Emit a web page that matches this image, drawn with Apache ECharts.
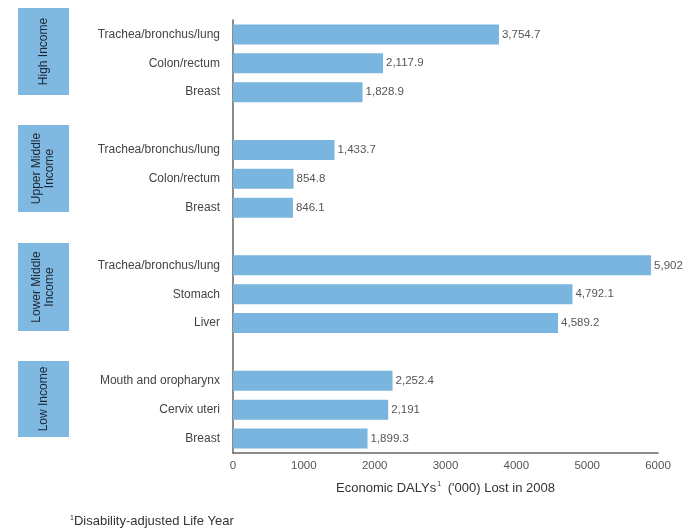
<!DOCTYPE html>
<html>
<head>
<meta charset="utf-8">
<script src="https://cdn.jsdelivr.net/npm/echarts@6/dist/echarts.min.js"></script>
<style>html,body{margin:0;padding:0;background:#fff;}#c{width:697px;height:531px;}</style>
</head>
<body>
<div id="c"></div>
<script>
// Data
var categories = [
  'Trachea/bronchus/lung', 'Colon/rectum', 'Breast', '',
  'Trachea/bronchus/lung ', 'Colon/rectum ', 'Breast ', ' ',
  'Trachea/bronchus/lung  ', 'Stomach', 'Liver', '  ',
  'Mouth and oropharynx', 'Cervix uteri', 'Breast  '
];
var values = [
  3754.7, 2117.9, 1828.9, null,
  1433.7, 854.8, 846.1, null,
  5902, 4792.1, 4589.2, null,
  2252.4, 2191, 1899.3
];
var groupNames = ['High Income', 'Upper Middle\nIncome', 'Lower Middle\nIncome', 'Low Income'];
var xTicks = [0, 1000, 2000, 3000, 4000, 5000, 6000];

// Layout of the group boxes (decoration)
var boxLayout = [
  {top: 8, height: 87},
  {top: 125, height: 87},
  {top: 243, height: 88},
  {top: 361, height: 76}
];

function fmt(v) {
  var parts = String(v).split('.');
  parts[0] = parts[0].replace(/\B(?=(\d{3})+(?!\d))/g, ',');
  return parts.join('.');
}

var font = '"Liberation Sans", Arial, sans-serif';
var chart = echarts.init(document.getElementById('c'));

var graphics = [];
groupNames.forEach(function (g, i) {
  var b = boxLayout[i];
  graphics.push({
    type: 'rect',
    shape: {x: 18, y: b.top, width: 51, height: b.height},
    style: {fill: '#7fb9e1'}
  });
  graphics.push({
    type: 'text',
    x: 43.5, y: b.top + b.height / 2,
    rotation: Math.PI / 2,
    style: {
      text: g, fill: '#1c2633', font: '12px ' + font,
      align: 'center', verticalAlign: 'middle', lineHeight: 13
    }
  });
});

chart.setOption({
  animation: false,
  backgroundColor: '#fff',
  title: {
    left: 65, top: 510,
    text: '{sup|1}Disability-adjusted Life Year',
    textStyle: {
      fontFamily: font, fontSize: 13, fontWeight: 'normal', color: '#333',
      rich: {sup: {fontSize: 7, verticalAlign: 'top', color: '#333', padding: [0, 0, 6, 0]}}
    }
  },
  grid: {left: 233, right: 39, top: 20, bottom: 78, containLabel: false},
  xAxis: {
    type: 'value', min: 0, max: 6000, interval: 1000,
    splitLine: {show: false},
    axisLine: {show: true, lineStyle: {color: '#666', width: 1.5}},
    axisTick: {show: false},
    axisLabel: {
      color: '#555', fontFamily: font, fontSize: 11.5, margin: 7,
      formatter: function (v) { return xTicks.indexOf(v) >= 0 ? String(v) : ''; }
    },
    name: "Economic DALYs{sup|1} ('000) Lost in 2008",
    nameLocation: 'middle', nameGap: 28,
    nameTextStyle: {
      color: '#333', fontFamily: font, fontSize: 13,
      rich: {sup: {fontSize: 7, verticalAlign: 'top', color: '#333', padding: [0, 3, 7, 1]}}
    }
  },
  yAxis: {
    type: 'category', data: categories, inverse: true,
    axisLine: {show: true, lineStyle: {color: '#666', width: 1.5}},
    axisTick: {show: false},
    axisLabel: {
      color: '#444', fontFamily: font, fontSize: 12, margin: 13, interval: 0,
      formatter: function (v) { return v.trim(); }
    },
    splitLine: {show: false}
  },
  series: [{
    type: 'bar', data: values, barWidth: 20,
    itemStyle: {color: '#79b5de'},
    label: {
      show: true, position: 'right', distance: 3,
      color: '#555', fontFamily: font, fontSize: 11.5,
      formatter: function (p) { return p.value == null ? '' : fmt(p.value); }
    }
  }],
  graphic: graphics
});
</script>
</body>
</html>
